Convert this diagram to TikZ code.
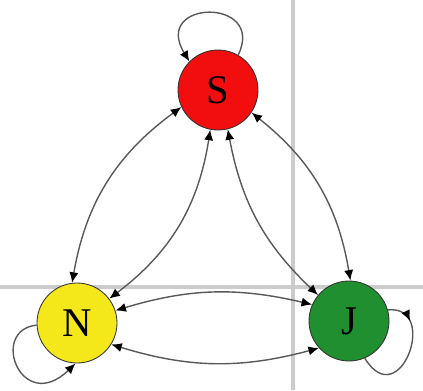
\documentclass[tikz,border=0pt]{standalone}
\usepackage{fontspec}
\setmainfont{Liberation Serif}
\usepackage{tikz}
\usetikzlibrary{positioning, arrows.meta, decorations.markings}
\tikzset{>={Latex[length=7.5pt,width=6.5pt,color=black]}}

\definecolor{sred}{RGB}{242,14,14}
\definecolor{nyellow}{RGB}{245,232,26}
\definecolor{jgreen}{RGB}{31,143,47}

\begin{document}
\begin{tikzpicture}[
    vertex/.style={draw=black!80, circle, line width=0.6pt, minimum size=2cm, inner sep=0pt, font=\fontsize{29}{31}\selectfont},
    link/.style={<->, draw=black!65, line width=1pt},
    guide/.style={draw=black!20, line width=2.4pt}
]
    \useasboundingbox (-5.45,-7.5) rectangle (5.125,2.25);
    \draw[guide] (1.875,2.25) -- (1.875,-7.5);
    \draw[guide] (-5.45,-4.925) -- (5.125,-4.925);

    \node[vertex, fill=sred] (S) {S};
    \node[vertex, fill=nyellow, on grid, below left=5.825cm and 3.525cm of S] (N) {N};
    \node[vertex, fill=jgreen, on grid, below right=5.775cm and 3.275cm of S] (J) {J};

    \draw[link] (S.205) to[bend right=22] (N.97);
    \draw[link] (S.259) to[bend left=22] (N.37);
    \draw[link] (S.326) to[bend left=21] (J.88);
    \draw[link] (S.284) to[bend right=18] (J.140);
    \draw[link] (N.18) to[bend left=15] (J.156);
    \draw[link] (N.328) to[bend right=16] (J.222);

    % self loops
    \draw[link, ->] (S.60) .. controls +(0.7,1.45) and +(-0.95,1.55) .. (S.135);
    \draw[link, ->] (N.183) .. controls +(-1.2,-0.125) and +(-1.35,-1.3) .. (N.268);
    \draw[link, -, postaction={decorate}, decoration={markings, mark=at position 0.22 with {\arrow{>}}}] (J.16) .. controls +(1.3,0.125) and +(0.875,-1.425) .. (J.293);
\end{tikzpicture}
\end{document}
